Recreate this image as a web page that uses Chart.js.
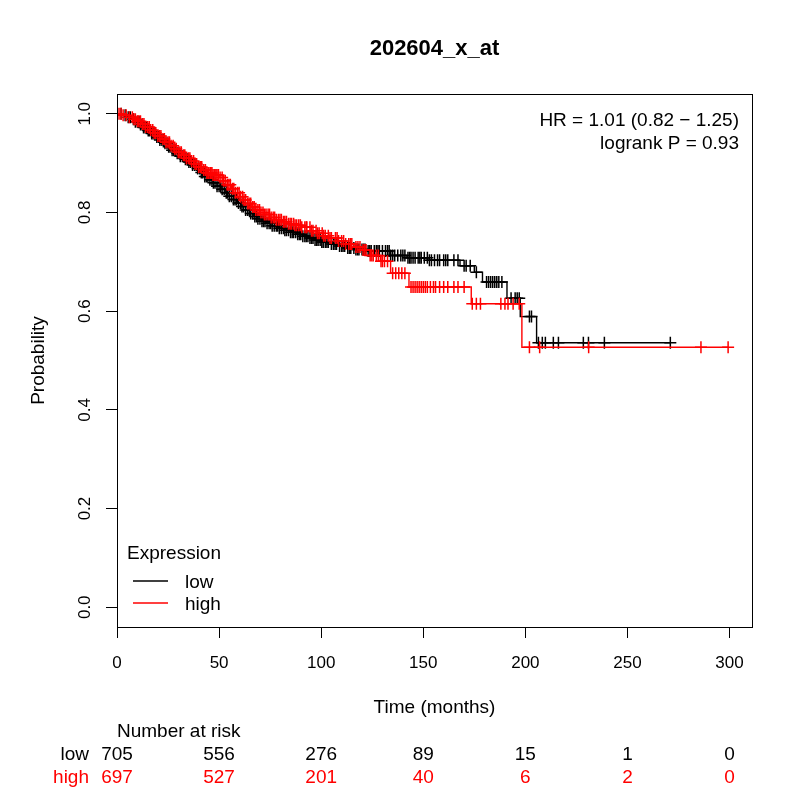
<!DOCTYPE html>
<html><head><meta charset="utf-8">
<script src="https://cdn.jsdelivr.net/npm/chart.js@4.4.1/dist/chart.umd.min.js"></script>
<style>html,body{margin:0;padding:0;background:#fff}canvas{display:block}</style>
</head><body>
<canvas id="c" width="800" height="800" style="width:800px;height:800px"></canvas>
<script>
// ---------------- data ----------------
const titleText = '202604_x_at';
const xAxisTitle = 'Time (months)';
const yAxisTitle = 'Probability';
const xTicks = [0, 50, 100, 150, 200, 250, 300];
const xTickLabels = ['0', '50', '100', '150', '200', '250', '300'];
const yTicks = [0, 0.2, 0.4, 0.6, 0.8, 1.0];
const yTickLabels = ['0.0', '0.2', '0.4', '0.6', '0.8', '1.0'];
const legendTitle = 'Expression';
const groupNames = ['low', 'high'];
const hrText = 'HR = 1.01 (0.82 \u2212 1.25)';
const pText = 'logrank P = 0.93';

// low expression (black) KM steps: time where the curve drops, value after drop
const lowStepTimes = [0, 2.5, 5, 7, 9, 11, 13, 15, 17, 19, 21, 23, 25, 27, 29, 31, 33, 35, 37, 39, 41, 43, 45, 47, 49, 51, 53, 55, 57, 59, 61, 63, 65, 67, 69, 71, 73, 76, 79, 82, 85, 88, 91, 94, 97, 100, 104, 108, 112, 117, 122, 134, 142, 153, 168, 175, 179, 191, 197.5, 205.5];
const lowStepProbs = [1.000, 0.997, 0.993, 0.989, 0.984, 0.978, 0.972, 0.966, 0.960, 0.953, 0.947, 0.940, 0.933, 0.926, 0.920, 0.914, 0.908, 0.902, 0.896, 0.889, 0.881, 0.873, 0.866, 0.860, 0.853, 0.847, 0.840, 0.833, 0.826, 0.819, 0.812, 0.805, 0.798, 0.792, 0.787, 0.782, 0.778, 0.773, 0.768, 0.764, 0.760, 0.756, 0.752, 0.748, 0.744, 0.740, 0.736, 0.732, 0.728, 0.725, 0.722, 0.713, 0.708, 0.703, 0.692, 0.679, 0.659, 0.626, 0.589, 0.536];
const lowEndTime = 271;
const lowCensorTimes = [2, 4, 5.5, 6.5, 8, 9, 10, 10.8, 11.5, 12.3, 13, 13.8, 14.5, 15.3, 16, 17, 17.7, 18.5, 19.5, 20.3, 21, 22, 22.8, 23.5, 24.5, 25.3, 26, 27, 27.8, 28.5, 29.5, 30.3, 31, 32, 32.7, 33.5, 34.5, 35.2, 36, 37, 38, 38.8, 39.5, 40.5, 41.3, 42, 43, 43.8, 44.5, 45.5, 46.5, 47.2, 48, 49, 50, 50.8, 51.5, 52.5, 53.5, 54.2, 55, 56, 57, 57.8, 58.5, 59.5, 60.5, 61.2, 62, 63, 64, 64.8, 65.5, 66.5, 67.5, 68.3, 69, 70, 71, 71.8, 72.5, 73.5, 74.5, 75.3, 76, 77, 78, 78.7, 79.5, 80.5, 81.5, 82.2, 83, 84, 85, 85.8, 86.5, 87.5, 88.5, 89.3, 90, 91, 92, 92.7, 93.5, 94.5, 95.3, 96, 97, 97.8, 98.5, 99.5, 100.3, 101, 102, 102.8, 103.5, 105, 106, 106.8, 107.5, 109, 110, 110.7, 111.5, 113, 113.8, 114.5, 116, 117, 117.8, 118.5, 120, 120.8, 121.5, 123, 123.8, 124.5, 126, 127, 127.8, 128.5, 130, 131.5, 132.5, 133.3, 134, 135, 136, 137.5, 139, 140, 141, 142.5, 143.3, 144, 145, 146, 147.5, 148.3, 149, 150.5, 152, 153, 154, 155.5, 157, 158, 160, 161, 162, 165, 167, 170, 171, 173, 176, 181, 182, 183, 184, 185, 186, 187, 188.5, 193, 195, 196, 197, 202, 203, 206.4, 208.3, 209.8, 213.7, 216.2, 228.4, 230.9, 238.7, 271];

// high expression (red)
const highStepTimes = [0, 3, 6, 8, 10, 12, 14, 16, 18, 20, 22, 24, 26, 28, 30, 32, 34, 36, 38, 40, 42, 44, 47, 50, 52, 54, 56, 58, 60, 62, 64, 66, 68, 70, 72, 75, 78, 81, 84, 87, 90, 95, 98, 101, 104, 108, 112, 116, 120, 124, 129, 134, 143, 173.5, 198.3];
const highStepProbs = [1.000, 0.997, 0.993, 0.989, 0.985, 0.979, 0.973, 0.967, 0.961, 0.955, 0.949, 0.942, 0.935, 0.929, 0.922, 0.916, 0.910, 0.904, 0.898, 0.892, 0.886, 0.880, 0.876, 0.871, 0.864, 0.856, 0.848, 0.840, 0.832, 0.825, 0.818, 0.811, 0.805, 0.800, 0.796, 0.790, 0.785, 0.781, 0.777, 0.774, 0.770, 0.763, 0.758, 0.753, 0.748, 0.742, 0.736, 0.730, 0.724, 0.713, 0.701, 0.677, 0.649, 0.615, 0.527];
const highEndTime = 299.3;
const highCensorTimes = [1, 2, 3, 4.5, 6, 7.5, 8.3, 9, 10, 10.7, 11.5, 12.5, 13.2, 14, 15, 15.8, 16.5, 17.5, 18.2, 19, 20, 20.8, 21.5, 22.5, 23.2, 24, 25, 25.7, 26.5, 27.5, 28.3, 29, 30, 30.8, 31.5, 32.5, 33.2, 34, 35, 35.7, 36.5, 37.5, 38.2, 39, 40, 40.8, 41.5, 42.5, 43.3, 44, 44.6, 45, 45.7, 46, 46.5, 47, 47.6, 48, 48.5, 49, 49.7, 50.5, 51.5, 52.2, 53, 54, 54.8, 55.5, 56.5, 57.2, 58, 59, 59.8, 60.5, 61.5, 62.2, 63, 64, 64.7, 65.5, 66.5, 67.2, 68, 69, 69.8, 70.5, 71.5, 72.2, 73, 74, 74.7, 75.5, 76.5, 77.2, 78, 79, 79.8, 80.5, 81.5, 82.2, 83, 84, 84.8, 85.5, 86.5, 87.2, 88, 89, 89.8, 90.5, 92, 92.7, 93, 94.5, 95.3, 96, 97.5, 98.2, 99, 100.5, 101.2, 102, 103.5, 104.3, 105, 107, 107.8, 108.5, 110, 111, 112, 113.5, 114.3, 115, 117, 118, 119, 120.5, 121.3, 122, 124, 124.8, 125.5, 127, 128, 129.3, 130, 131, 132.5, 135, 136.5, 138, 139.5, 141, 144, 145, 146, 147, 148, 149, 150, 151, 152, 153.5, 155, 156, 158, 160, 162, 165, 167, 170, 174, 176, 178, 188, 190, 191.5, 194, 197, 202, 207, 231, 286, 299.3];

// number at risk table
const riskTimes = [0, 50, 100, 150, 200, 250, 300];
const riskLow = [705, 556, 276, 89, 15, 1, 0];
const riskHigh = [697, 527, 201, 40, 6, 2, 0];
const riskTitle = 'Number at risk';

// ---------------- helpers ----------------
const FONT = "'Liberation Sans', Arial, Helvetica, sans-serif";
const BLACK = '#000000';
const RED = '#ff0000';

function stepPoints(times, probs, endTime) {
  const pts = times.map((t, i) => ({ x: t, y: probs[i] }));
  pts.push({ x: endTime, y: probs[probs.length - 1] });
  return pts;
}
function survAt(times, probs, t) {
  let v = probs[0];
  for (let i = 0; i < times.length; i++) { if (times[i] <= t) v = probs[i]; else break; }
  return v;
}
function censorPoints(ctimes, times, probs) {
  return ctimes.map(t => ({ x: t, y: survAt(times, probs, t) }));
}

const decor = {
  id: 'rDecor',
  afterDraw(chart) {
    const ctx = chart.ctx;
    const ca = chart.chartArea;
    const xs = chart.scales.x, ys = chart.scales.y;
    ctx.save();
    // box
    ctx.strokeStyle = '#000';
    ctx.lineWidth = 1;
    ctx.strokeRect(ca.left + 0.5, ca.top + 0.5, ca.right - ca.left, ca.bottom - ca.top);
    ctx.fillStyle = '#000';
    // title
    ctx.font = 'bold 22px ' + FONT;
    ctx.textAlign = 'center';
    ctx.textBaseline = 'alphabetic';
    ctx.fillText(titleText, (ca.left + ca.right) / 2, 55);
    // x tick labels
    ctx.font = '17px ' + FONT;
    xTicks.forEach((v, i) => ctx.fillText(xTickLabels[i], xs.getPixelForValue(v), 668));
    // y tick labels (rotated)
    yTicks.forEach((v, i) => {
      ctx.save();
      ctx.translate(90, ys.getPixelForValue(v));
      ctx.rotate(-Math.PI / 2);
      ctx.textAlign = 'center';
      ctx.fillText(yTickLabels[i], 0, 0);
      ctx.restore();
    });
    // axis titles
    ctx.font = '19px ' + FONT;
    ctx.fillText(xAxisTitle, (ca.left + ca.right) / 2, 713);
    ctx.save();
    ctx.translate(44, (ca.top + ca.bottom) / 2);
    ctx.rotate(-Math.PI / 2);
    ctx.textAlign = 'center';
    ctx.fillText(yAxisTitle, 0, 0);
    ctx.restore();
    // HR text
    ctx.textAlign = 'right';
    ctx.fillText(hrText, 739, 126);
    ctx.fillText(pText, 739, 149);
    // legend
    ctx.textAlign = 'left';
    ctx.fillText(legendTitle, 127, 559);
    ctx.lineWidth = 1.3;
    [BLACK, RED].forEach((col, i) => {
      const yy = 581 + i * 22;
      ctx.strokeStyle = col;
      ctx.beginPath(); ctx.moveTo(133, yy); ctx.lineTo(168, yy); ctx.stroke();
      ctx.fillStyle = '#000';
      ctx.fillText(groupNames[i], 185, yy + 7);
    });
    // risk table
    ctx.fillStyle = '#000';
    ctx.fillText(riskTitle, xs.getPixelForValue(riskTimes[0]), 737);
    ctx.textAlign = 'right';
    ctx.fillText(groupNames[0], 89, 760);
    ctx.fillStyle = RED;
    ctx.fillText(groupNames[1], 89, 783);
    ctx.textAlign = 'center';
    riskTimes.forEach((t, i) => {
      const px = xs.getPixelForValue(t);
      ctx.fillStyle = '#000';
      ctx.fillText(String(riskLow[i]), px, 760);
      ctx.fillStyle = RED;
      ctx.fillText(String(riskHigh[i]), px, 783);
    });
    ctx.restore();
  }
};

new Chart(document.getElementById('c'), {
  type: 'scatter',
  data: {
    datasets: [
      { label: 'low', data: stepPoints(lowStepTimes, lowStepProbs, lowEndTime), showLine: true, stepped: true,
        borderColor: BLACK, borderWidth: 1.4, pointRadius: 0, fill: false, order: 4 },
      { label: 'low censored', data: censorPoints(lowCensorTimes, lowStepTimes, lowStepProbs), showLine: false,
        pointStyle: 'cross', pointRadius: 6, pointBorderColor: BLACK, borderColor: BLACK, pointBorderWidth: 1.5, order: 3 },
      { label: 'high', data: stepPoints(highStepTimes, highStepProbs, highEndTime), showLine: true, stepped: true,
        borderColor: RED, borderWidth: 1.4, pointRadius: 0, fill: false, order: 2 },
      { label: 'high censored', data: censorPoints(highCensorTimes, highStepTimes, highStepProbs), showLine: false,
        pointStyle: 'cross', pointRadius: 6, pointBorderColor: RED, borderColor: RED, pointBorderWidth: 1.5, order: 1 }
    ]
  },
  options: {
    responsive: false,
    animation: false,
    devicePixelRatio: 1,
    layout: { padding: { left: 0, top: 94, right: 48, bottom: 0 } },
    plugins: { legend: { display: false }, tooltip: { enabled: false }, title: { display: false } },
    elements: { point: { hoverRadius: 6 } },
    scales: {
      x: {
        type: 'linear', min: 0, max: 311,
        afterBuildTicks: s => { s.ticks = xTicks.map(v => ({ value: v })); },
        afterFit: s => { s.height = 173; },
        border: { display: true, color: '#000', width: 1 },
        grid: { display: true, drawOnChartArea: false, drawTicks: true, tickLength: 11, color: '#000', tickWidth: 1 },
        ticks: { display: false }
      },
      y: {
        type: 'linear', min: -0.04, max: 1.04,
        afterBuildTicks: s => { s.ticks = yTicks.map(v => ({ value: v })); },
        afterFit: s => { s.width = 117; },
        border: { display: true, color: '#000', width: 1 },
        grid: { display: true, drawOnChartArea: false, drawTicks: true, tickLength: 11, color: '#000', tickWidth: 1 },
        ticks: { display: false }
      }
    }
  },
  plugins: [decor]
});
</script>
</body></html>
